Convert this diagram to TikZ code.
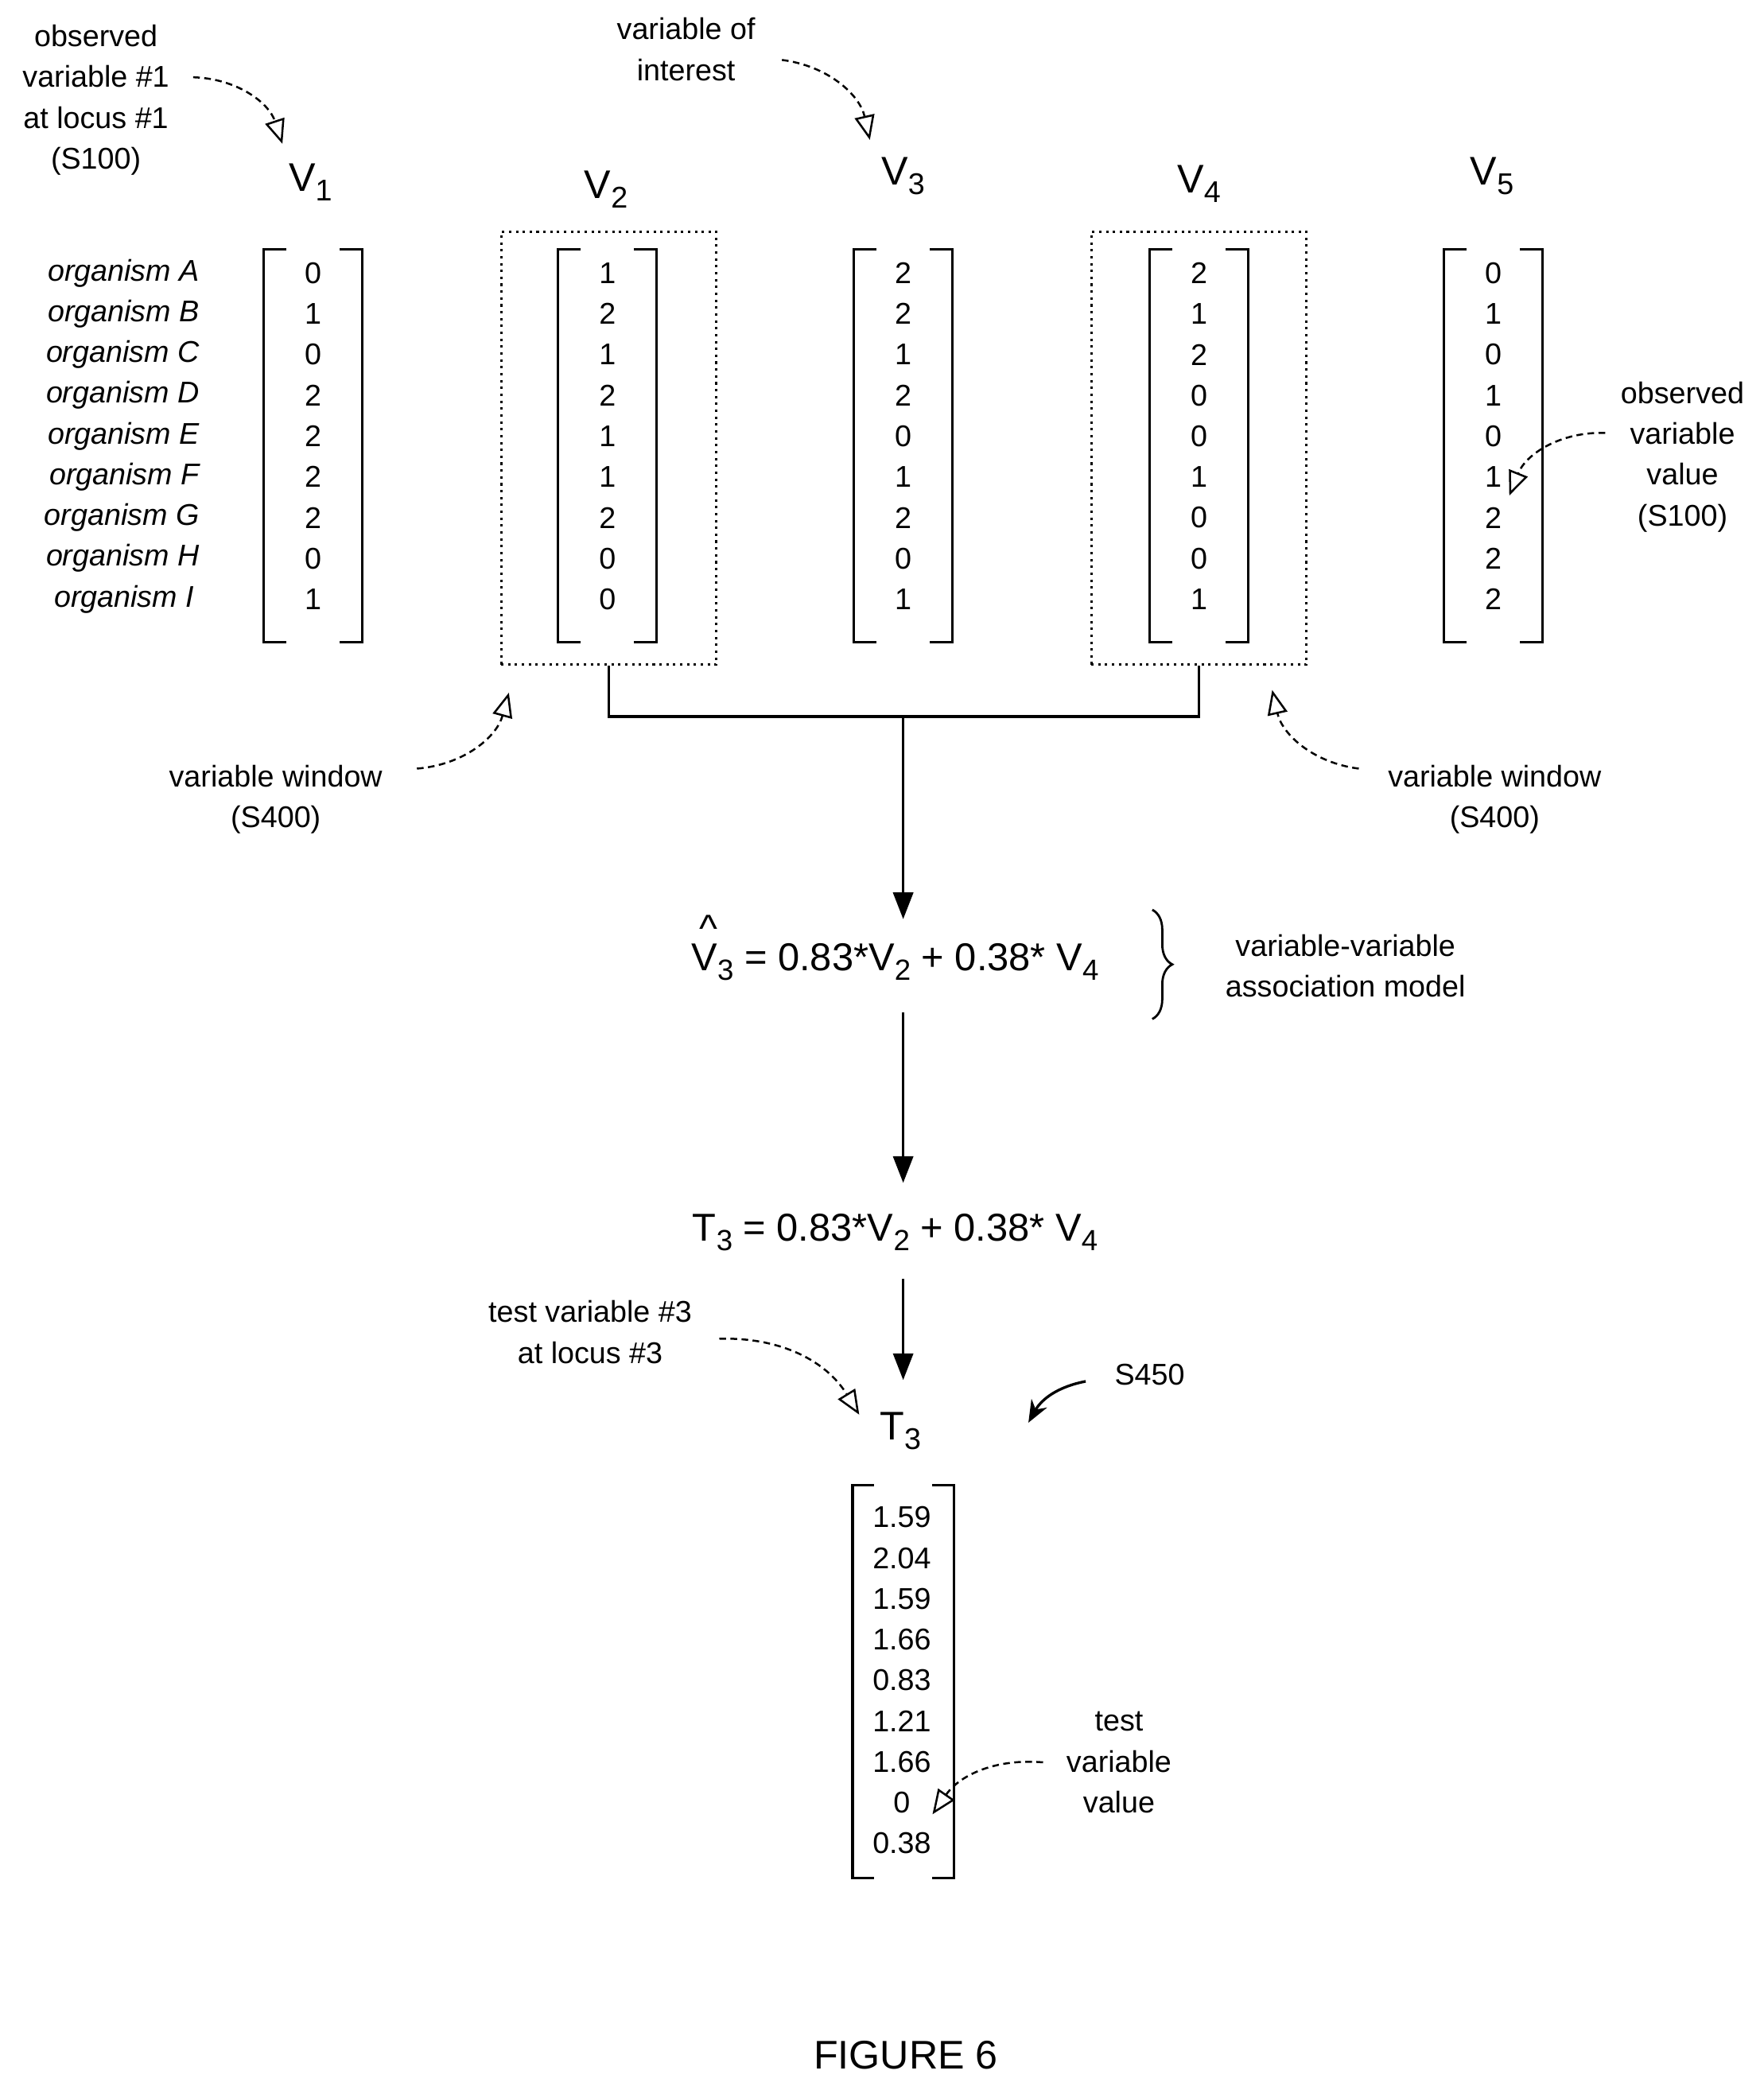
\documentclass[tikz,border=0pt]{standalone}
\usepackage{fontspec}
\setmainfont{Liberation Sans}
\usetikzlibrary{arrows.meta,decorations.pathreplacing}
\newcommand\sub[1]{\raisebox{-0.45ex}{\scalebox{0.75}{#1}}}
\begin{document}
\begin{tikzpicture}[x=0.6pt,y=-0.6pt,
  val/.style={font=\fontsize{13.5}{15}\selectfont,inner sep=0pt},
  org/.style={font=\fontsize{13.5}{15}\selectfont\itshape,anchor=east,inner sep=0pt},
  hdr/.style={font=\fontsize{18}{20}\selectfont,inner sep=0pt},
  eq/.style={font=\fontsize{17.5}{18}\selectfont,inner sep=0pt},
  note/.style={font=\fontsize{13.5}{18.4}\selectfont,align=center,inner sep=0pt},
  br/.style={line width=1.2pt},
  win/.style={dotted,line width=1.1pt},
  ann/.style={densely dashed,line width=0.9pt,-{Triangle[open,length=11pt,width=9pt]}},
  flow/.style={line width=1.2pt,-{Triangle[length=12pt,width=9pt]}}]
\useasboundingbox (0,0) rectangle (1324,1566);
\newcommand\mcol[3]{%
  \foreach \v [count=\i] in {#3} {\node[val] (#2-\i) at (#1,{205+(\i-1)*30.6}) {\v};}
  \draw[br] ({#1-20},187) -- ({#1-37},187) -- ({#1-37},482) -- ({#1-20},482);
  \draw[br] ({#1+20},187) -- ({#1+37},187) -- ({#1+37},482) -- ({#1+20},482);}
\mcol{235}{a}{0,1,0,2,2,2,2,0,1}
\mcol{456}{b}{1,2,1,2,1,1,2,0,0}
\mcol{678}{c}{2,2,1,2,0,1,2,0,1}
\mcol{900}{d}{2,1,2,0,0,1,0,0,1}
\mcol{1121}{e}{0,1,0,1,0,1,2,2,2}
\foreach \o [count=\i] in {A,B,C,D,E,F,G,H} {\node[org] (o\i) at (150,{205+(\i-1)*30.6}) {organism \o};}
\node[org] (o9) at (146,450) {organism I};
\node[hdr] (h1) at (233,137) {V\sub{1}};
\node[hdr] (h2) at (455,142) {V\sub{2}};
\node[hdr] (h3) at (678,132) {V\sub{3}};
\node[hdr] (h4) at (900,138) {V\sub{4}};
\node[hdr] (h5) at (1120,132) {V\sub{5}};
\node[draw,win,minimum width=97pt,minimum height=195pt] (w2) at (457,336.5) {};
\node[draw,win,minimum width=97pt,minimum height=195pt] (w4) at (900,336.5) {};
\coordinate (j) at (678,538);
\draw[line width=1.2pt] (w2.south) |- (j) -| (w4.south);
\node[eq] (m) at (672,722) {V\sub{3} = 0.83*V\sub{2} + 0.38* V\sub{4}};
\node[eq] (hat) at (532,697) {\^{}};
\draw[flow] (j) -- (678,690);
\draw[line width=1pt,decorate,decoration={brace,amplitude=9pt}] (865,683) -- (865,765);
\node[note] (mlab) at (1010,725) {variable-variable\\association model};
\node[eq] (t) at (672,925) {T\sub{3} = 0.83*V\sub{2} + 0.38* V\sub{4}};
\draw[flow] (678,760) -- (678,888);
\draw[flow] (678,960) -- (678,1036);
\node[hdr] (h6) at (676,1074) {T\sub{3}};
\foreach \v [count=\i] in {1.59,2.04,1.59,1.66,0.83,1.21,1.66,0,0.38} {\node[val] (f-\i) at (677,{1139+(\i-1)*30.6}) {\v};}
\draw[br] (656,1115) -- (640,1115) -- (640,1410) -- (656,1410);
\draw[br] (700,1115) -- (716,1115) -- (716,1410) -- (700,1410);
\node[note] (n1) at (72,75) {observed\\variable \#1\\at locus \#1\\(S100)};
\draw[ann] (145,58) to[bend left=35] (212,108);
\node[note] (n2) at (515,37) {variable of\\interest};
\draw[ann] (587,45) to[bend left=35] (653,105);
\node[note] (n3) at (207,600) {variable window\\(S400)};
\draw[ann] (313,577) to[bend right=35] (382,520);
\node[note] (n4) at (1122,600) {variable window\\(S400)};
\draw[ann] (1020,577) to[bend left=35] (955,518);
\node[note] (n5) at (1263,343) {observed\\variable\\value\\(S100)};
\draw[ann] (1205,325) to[bend right=35] (1133,372);
\node[note] (n6) at (443,1000) {test variable \#3\\at locus \#3};
\draw[ann] (540,1005) to[bend left=30] (645,1062);
\node[val] (s450) at (863,1032) {S450};
\draw[line width=1.2pt,-{Stealth[length=10pt,width=8pt]}] (815,1037) to[bend right=25] (772,1068);
\node[note] (n7) at (840,1323) {test\\variable\\value};
\draw[ann] (783,1323) to[bend right=30] (700,1362);
\node[font=\fontsize{18}{20}\selectfont] (fig) at (680,1543) {FIGURE 6};
\end{tikzpicture}
\end{document}
